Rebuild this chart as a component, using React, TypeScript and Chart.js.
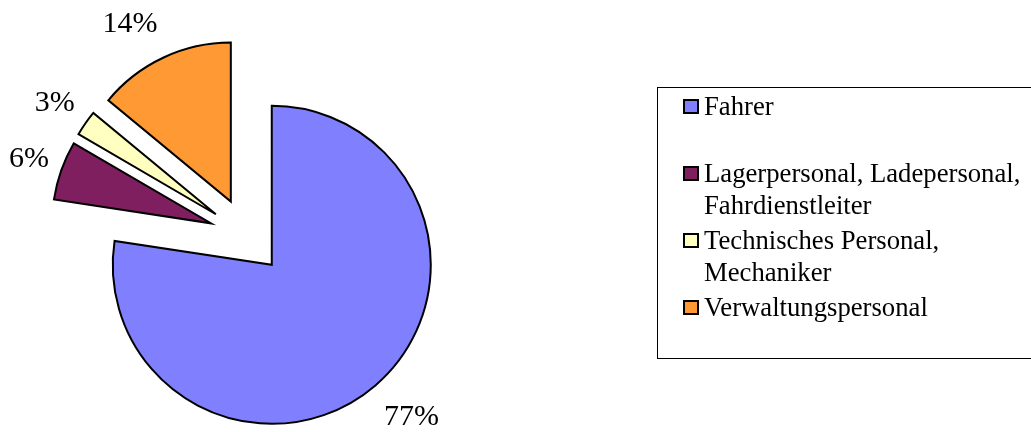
import React, { useEffect, useRef } from "react";
import { Chart, registerables } from "chart.js";

Chart.register(...registerables);

// ---- data ----
const categories: string[][] = [
  ["Fahrer"],
  ["Lagerpersonal, Ladepersonal,", "Fahrdienstleiter"],
  ["Technisches Personal,", "Mechaniker"],
  ["Verwaltungspersonal"],
];
const shares: number[] = [77.4, 6.0, 2.6, 14.0];
const sliceColors: string[] = ["#8080ff", "#7f1f5f", "#ffffc0", "#ff9933"];

// ---- style constants ----
const EXPLODE = 38;
const RADIUS = 159;
const LABEL_GAP = 13;
const LABEL_DY = 26;
const SERIF = '"Liberation Serif", "Times New Roman", serif';

const explodePlugin = {
  id: "explode",
  afterDatasetsUpdate(chart: any) {
    const meta = chart.getDatasetMeta(0);
    meta.data.forEach((el: any) => {
      const mid = (el.startAngle + el.endAngle) / 2;
      el.x += Math.cos(mid) * EXPLODE;
      el.y += Math.sin(mid) * EXPLODE;
    });
  },
};

const labelPlugin = {
  id: "pctLabels",
  afterDatasetsDraw(chart: any) {
    const ctx = chart.ctx as CanvasRenderingContext2D;
    const meta = chart.getDatasetMeta(0);
    const total = shares.reduce((a, b) => a + b, 0);
    ctx.save();
    ctx.font = `30px ${SERIF}`;
    ctx.fillStyle = "#000";
    ctx.textAlign = "center";
    ctx.textBaseline = "alphabetic";
    const digitH = 20;
    meta.data.forEach((el: any, i: number) => {
      const text = Math.round((shares[i] / total) * 100) + "%";
      const mid = (el.startAngle + el.endAngle) / 2;
      const dx = Math.cos(mid);
      const dy = Math.sin(mid);
      const w = ctx.measureText(text).width;
      const s = el.outerRadius + LABEL_GAP;
      const cx = el.x + dx * s + Math.sign(dx) * (w / 2);
      const cy = el.y + dy * (s + LABEL_DY);
      ctx.fillText(text, cx, cy + digitH / 2);
    });
    ctx.restore();
  },
};

export default function App() {
  const ref = useRef<HTMLCanvasElement>(null);

  useEffect(() => {
    const chart = new Chart(ref.current as HTMLCanvasElement, {
      type: "pie",
      data: {
        labels: categories,
        datasets: [
          {
            data: shares,
            backgroundColor: sliceColors,
            borderColor: "#000",
            borderWidth: 2,
            borderJoinStyle: "miter",
          } as any,
        ],
      },
      options: {
        animation: false,
        responsive: false,
        events: [],
        radius: RADIUS,
        layout: { padding: { left: 0, right: 537, top: 40, bottom: 0 } },
        plugins: {
          legend: { display: false },
          tooltip: { enabled: false },
        },
      } as any,
      plugins: [explodePlugin, labelPlugin],
    });
    return () => chart.destroy();
  }, []);

  return (
    <div
      style={{
        position: "fixed",
        left: 0,
        top: 0,
        width: 1031,
        height: 432,
        overflow: "hidden",
        background: "#fff",
      }}
    >
      <canvas
        ref={ref}
        width={1031}
        height={432}
        style={{ position: "absolute", left: 0, top: 0 }}
      />
      <div
        style={{
          position: "absolute",
          left: 657,
          top: 87,
          width: 420,
          height: 272,
          border: "1px solid #000",
          boxSizing: "border-box",
        }}
      >
        {categories.map((lines, i) => (
          <div
            key={i}
            style={{ position: "absolute", left: 25, top: 2 + i * 67, height: 64 }}
          >
            <div
              style={{
                position: "absolute",
                left: 0,
                top: 9,
                width: 16,
                height: 15,
                border: "2px solid #000",
                boxSizing: "border-box",
                background: sliceColors[i],
              }}
            />
            <div
              style={{
                position: "absolute",
                left: 21,
                top: 0,
                whiteSpace: "nowrap",
                fontFamily: SERIF,
                fontSize: 26.7,
                lineHeight: "32px",
                color: "#000",
              }}
            >
              {lines.map((l, j) => (
                <div key={j}>{l}</div>
              ))}
            </div>
          </div>
        ))}
      </div>
    </div>
  );
}
